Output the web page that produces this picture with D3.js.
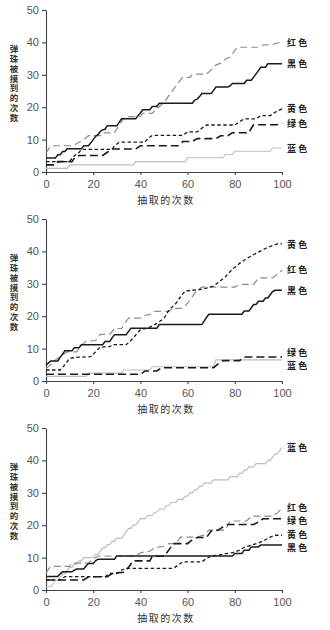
<!DOCTYPE html>
<html><head><meta charset="utf-8">
<script src="https://cdn.jsdelivr.net/npm/d3@7"></script>
<style>
html,body{margin:0;padding:0;background:#fff;}
svg{display:block;}
</style></head>
<body>
<script>
// ---------- data ----------
const xTicks = [0, 20, 40, 60, 80, 100];
const yTicks = [0, 10, 20, 30, 40, 50];
const xTitle = "抽取的次数";
const yTitle = "弹珠被摸到的次数";
const colorNames = ["红色", "黑色", "黄色", "绿色", "蓝色"];

// panel 1
const p1Red = [[0,5.8],[2,8.1],[10,8.1],[12,8.3],[14,9.2],[16,10],[18,11.2],[23,11.2],[24,12.1],[29,12.1],[31,14.5],[33,16.5],[34,17.1],[40,17.1],[41,18.1],[45,18.1],[47,19.5],[50,21.5],[52,23.5],[54,25.5],[56,27.5],[58,29.2],[61,29.2],[62,30.2],[68,30.2],[70,31.5],[72,33],[74,33.6],[76,34.8],[78,35.5],[80,37.5],[81,38.5],[90,38.5],[92,39.2],[96,39.4],[100,40.2]];
const p1Black = [[0,4.3],[4,4.3],[5,5.3],[6,5.3],[7,6.3],[8,6.3],[9,7.2],[15,7.2],[16,8.1],[18,8.1],[19,9],[20,10],[21,11],[22,11.5],[23,12.5],[24,13],[25,13.2],[26,14.3],[30,14.3],[31,15.3],[32,16.4],[38,16.4],[39,17.4],[40,18.2],[41,19.2],[44,19.2],[45,20.2],[47,20.2],[48,21.2],[62,21.2],[63,22.2],[64,22.5],[65,23.2],[66,24.2],[70,24.2],[71,25.2],[72,26.2],[77,26.2],[78,26.6],[79,27.3],[84,27.3],[85,28.3],[87,28.3],[88,29.3],[89,30.3],[90,31.3],[91,32.3],[93,32.3],[94,33.4],[100,33.4]];
const p1Yellow = [[0,3.2],[10,3.2],[11,4.2],[12,5],[14,6],[15,7],[28,7],[29,8],[31,9.2],[42,9.2],[43,10.2],[45,11.3],[58,11.3],[60,12.4],[64,12.4],[66,13.5],[68,14.5],[80,14.5],[82,15.5],[84,16.4],[89,16.4],[91,17.4],[95,17.4],[97,18.4],[100,19.5]];
const p1Green = [[0,2.2],[4,2.2],[5,3.2],[11,3.2],[12,4.2],[14,5.1],[24,5.1],[26,6.1],[28,7.1],[38,7.1],[40,8.1],[56,8.1],[58,9.4],[62,9.4],[64,10.3],[72,10.3],[74,11.2],[77,11.2],[79,12.1],[86,12.1],[87,13.5],[88,14.6],[98,14.6],[100,15.2]];
const p1Blue = [[0,1.1],[9,1.1],[10,2.2],[37,2.2],[38,3.2],[59,3.2],[60,4.4],[75,4.4],[76,5.4],[79,5.4],[80,6.4],[95,6.4],[96,7.4],[100,7.4]];
const p1Labels = [40, 33.5, 19.6, 14.8, 7.1];

// panel 2
const p2Red = [[0,3.9],[2,5],[4,6.5],[7,8],[9,9],[13,9],[15,11],[17,12.3],[21,12.5],[23,14.4],[27,14.4],[29,16.2],[32,16.2],[34,18.5],[35,19.4],[40,19.4],[42,20.3],[44,20.5],[46,21.5],[52,21.5],[54,22.4],[58,22.4],[60,24],[62,26],[64,28],[66,29],[80,29],[82,29.8],[88,29.8],[90,31.8],[96,31.8],[100,34.2]];
const p2Black = [[0,4.9],[2,6.2],[5,6.2],[6,7.3],[7,8.3],[8,9.3],[11,9.3],[12,10.3],[14,10.3],[15,11.2],[24,11.2],[25,12.2],[27,12.2],[28,13.3],[29,14.3],[34,14.3],[35,15.3],[36,16.3],[47,16.3],[48,17.4],[66,17.4],[67,18.5],[68,19.6],[69,20.6],[83,20.6],[84,21.6],[86,21.6],[87,22.6],[88,23.6],[89,23.6],[90,24.6],[92,24.6],[93,25.6],[94,25.6],[95,26.6],[96,27.6],[97,28],[100,28]];
const p2Yellow = [[0,3.4],[6,3.4],[8,5],[10,7],[13,7.3],[19,7.5],[21,9],[23,10.5],[27,10.6],[28,11.2],[34,11.2],[36,12.5],[38,14.2],[40,15.8],[43,16.3],[45,17],[47,17.8],[50,19.3],[52,21.8],[55,23.9],[57,26],[59,27.8],[65,28.2],[68,28.7],[71,29.3],[74,31],[76,32.2],[79,34.5],[82,36.3],[85,37.8],[89,39.4],[93,40.9],[96,41.8],[98,42.3],[100,42.3]];
const p2Green = [[0,2.1],[40,2.1],[42,3.1],[47,3.1],[49,4.1],[71,4.1],[73,5.3],[75,6.3],[82,6.3],[84,7.4],[100,7.4]];
const p2Blue = [[0,1.4],[17,1.4],[18,2.4],[32,2.4],[33,3.4],[44,3.4],[45,4.4],[71,4.4],[72,6.5],[100,6.5]];
const p2Labels = [34.3, 27.8, 42, 8.8, 4.7];

// panel 3
const p3Red = [[0,5.3],[2,7.3],[10,7.3],[11,8.3],[18,8.3],[20,9.5],[22,10.5],[38,10.5],[40,11.5],[44,12],[46,13],[50,13.5],[52,14.3],[55,14.3],[57,16.3],[64,16.3],[67,17],[69,18.5],[76,18.5],[78,21.3],[85,21.3],[87,22.8],[96,22.8],[98,23.8],[100,25.2]];
const p3Black = [[0,4.2],[5,4.2],[6,5],[7,5.6],[11,5.6],[12,6.1],[13,6.5],[16,6.5],[17,7.5],[18,8.2],[20,8.2],[21,9],[22,9.5],[29,9.5],[30,10.5],[79,10.5],[80,11.3],[83,11.3],[84,12.3],[86,12.3],[87,13.3],[90,13.3],[91,13.9],[100,13.9]];
const p3Yellow = [[0,3.1],[6,3.1],[8,4.1],[25,4.1],[27,5.1],[30,5.1],[32,6.1],[34,6.7],[54,6.7],[56,7.7],[58,8.7],[66,8.7],[68,9.7],[70,10.5],[73,10.8],[76,11.2],[79,11.5],[82,12.3],[84,13.2],[87,13.8],[90,14.5],[93,15.5],[95,16.3],[97,16.9],[100,16.9]];
const p3Green = [[0,3.1],[16,3.1],[18,4.1],[26,4.1],[28,5.1],[33,5.5],[35,7],[37,9],[44,9],[45,10.4],[50,10.4],[51,11.3],[52,12.3],[54,14.3],[60,14.3],[62,15.5],[64,16.2],[68,16.2],[70,18.2],[73,18.5],[75,19.5],[77,20.2],[88,20.2],[90,21],[92,22],[100,22]];
const p3Blue = [[0,1],[2,1],[3,2],[4,3],[5,3],[6,4],[7,5],[8,5],[9,6],[10,7],[11,7],[12,8],[13,8],[14,9],[15,9],[16,10],[20,10],[21,11],[22,11],[23,12],[24,13],[25,13],[26,14],[27,14],[28,15],[29,15],[30,16],[32,16],[33,17],[34,18],[35,19],[36,19],[37,20],[38,20],[39,21],[40,22],[42,22],[43,23],[45,23],[46,24],[47,24],[48,25],[50,25],[51,26],[52,26],[53,27],[55,27],[56,28],[58,28],[59,29],[60,29],[61,30],[62,30],[63,31],[64,31],[65,32],[66,32],[67,33],[70,33],[71,34],[77,34],[78,35],[81,35],[82,36],[83,36],[84,37],[85,37],[86,38],[88,38],[89,39],[93,39],[94,40],[95,40],[96,41],[97,42],[98,42],[99,43],[100,44]];
const p3Labels = [25.5, 12.9, 17.0, 21.4, 44];

// ---------- drawing ----------
const W = 330, H = 630;
const svg = d3.select("body").append("svg").attr("width", W).attr("height", H);

const styles = [
  {stroke:"#8c8c8c", width:1.2, dash:"7,4"},    // 红色
  {stroke:"#1a1a1a", width:1.5, dash:null},     // 黑色
  {stroke:"#1a1a1a", width:1.3, dash:"3.5,2.5"},// 黄色
  {stroke:"#1a1a1a", width:1.6, dash:"8,4"},    // 绿色
  {stroke:"#bdbdbd", width:1.2, dash:null}      // 蓝色
];

const panels = [
  {off:0,   series:[p1Red,p1Black,p1Yellow,p1Green,p1Blue], labels:p1Labels},
  {off:209, series:[p2Red,p2Black,p2Yellow,p2Green,p2Blue], labels:p2Labels},
  {off:418, series:[p3Red,p3Black,p3Yellow,p3Green,p3Blue], labels:p3Labels}
];

const x = d3.scaleLinear().domain([0,100]).range([46,282]);

panels.forEach(p => {
  const g = svg.append("g").attr("transform", `translate(0,${p.off})`);
  const y = d3.scaleLinear().domain([0,50]).range([172,10]);

  const xAxis = g.append("g").attr("transform","translate(0,172)")
    .call(d3.axisBottom(x).tickValues(xTicks).tickSize(3).tickSizeOuter(0).tickPadding(5));
  const yAxis = g.append("g").attr("transform","translate(46,0)")
    .call(d3.axisLeft(y).tickValues(yTicks).tickSize(4).tickSizeOuter(0).tickPadding(3));
  [xAxis,yAxis].forEach(a=>{
    a.selectAll("path,line").attr("stroke","#444").attr("stroke-width",1.1);
    a.selectAll("text").attr("fill","#555").attr("font-family","Liberation Sans, Arial, sans-serif").attr("font-size",11);
  });

  const line = d3.line().x(d=>x(d[0])).y(d=>y(d[1]));
  [4,0,3,2,1].forEach(i=>{
    const s = styles[i];
    g.append("path").datum(p.series[i]).attr("d",line)
      .attr("fill","none").attr("stroke",s.stroke).attr("stroke-width",s.width)
      .attr("stroke-dasharray",s.dash);
  });

  // end labels
  p.labels.forEach((v,i)=>{
    g.append("text").attr("x",287).attr("y",y(v)).attr("dy","0.35em")
      .attr("font-family","Noto Sans CJK SC").attr("font-size",9).attr("font-weight",700)
      .attr("letter-spacing",2.2).attr("fill","#222").text(colorNames[i]);
  });

  // y title, vertical writing mode
  g.append("text").attr("x",14).attr("y",44.8)
    .style("writing-mode","vertical-rl").style("text-orientation","upright")
    .attr("font-family","Noto Sans CJK SC").attr("font-size",8.5).attr("font-weight",700)
    .attr("letter-spacing",1.3).attr("fill","#333").text(yTitle);

  // x title
  g.append("text").attr("x",166).attr("y",200).attr("dy","0.35em")
    .attr("text-anchor","middle").attr("font-family","Noto Sans CJK SC")
    .attr("font-size",10).attr("letter-spacing",1.5).attr("fill","#333").text(xTitle);
});
</script>
</body></html>
